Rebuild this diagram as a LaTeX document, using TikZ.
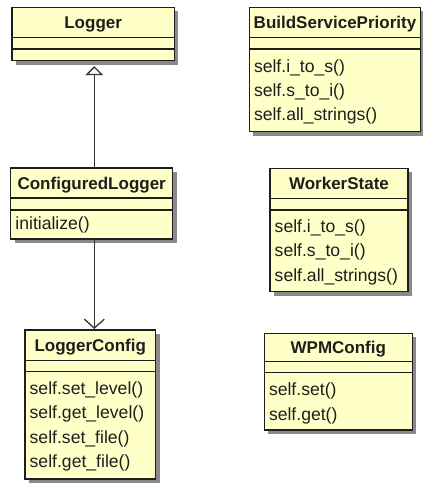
\documentclass[tikz,border=0pt]{standalone}
\usepackage{fontspec}
\setmainfont{Liberation Sans}
\usetikzlibrary{arrows.meta,fit}
\definecolor{classfill}{HTML}{FFFFC8}
\definecolor{shadowc}{HTML}{8A8A8A}
\definecolor{edgec}{HTML}{1E1E1E}
\definecolor{txtc}{HTML}{1E1E1E}
\tikzset{
  classbox/.style={draw=edgec, fill=classfill, line width=1.5pt, inner sep=0pt, outer sep=0pt},
  classline/.style={draw=edgec, line width=1.5pt},
  shadowbox/.style={fill=shadowc},
  titletext/.style={text=txtc, inner sep=0pt, anchor=base, font=\fontsize{17}{20}\selectfont\bfseries},
  rowtext/.style={text=txtc, inner sep=0pt, anchor=base west, font=\fontsize{17.6}{20}\selectfont},
  conn/.style={draw=edgec!90!white, line width=1.3pt},
  genarrow/.style={conn, -{Triangle[open, length=9pt, width=18pt, line width=1.3pt]}, shorten >=5.5pt},
  assocarrow/.style={conn, -{Straight Barb[length=9pt, width=20pt, line width=1.3pt]}, shorten >=1pt}
}
% #1 name, #2 left, #3 top, #4 right, #5 sep1, #6 sep2, #7 bottom, #8 title
\newcommand\umlclass[8]{%
  \fill[shadowbox] (#2+4,#3+4) rectangle (#4+4,#7+4);
  \node[classbox, fit={(#2,#3) (#4,#7)}] (#1) {};
  \draw[classline] (#2,#5) -- (#4,#5) (#2,#6) -- (#4,#6);
  \node[titletext] (#1-title) at ({(#2+#4)/2},{(#3+#5)/2+6}) {#8};
}
% #1 name, #2 left of class, #3 centre y, #4 text
\newcommand\umlrow[4]{%
  \node[rowtext] (#1) at (#2+4.5,#3+6) {#4};
}
\begin{document}
\begin{tikzpicture}[x=1pt,y=-1pt]
\useasboundingbox (0,0) rectangle (423,483);

% left column
\umlclass{logger}{12}{7.3}{174.3}{37.3}{49}{60.7}{Logger}
\umlclass{cfglogger}{10.7}{168}{172.7}{198}{210}{239}{ConfiguredLogger}
\umlrow{cl-r1}{10.7}{223}{initialize()}
\umlclass{loggerconfig}{25}{330}{155.5}{360.5}{371.7}{479}{LoggerConfig}
\umlrow{lc-r1}{25}{388}{self.set\_level()}
\umlrow{lc-r2}{25}{412.5}{self.get\_level()}
\umlrow{lc-r3}{25}{437}{self.set\_file()}
\umlrow{lc-r4}{25}{461.5}{self.get\_file()}

% right column
\umlclass{bsp}{249.3}{7.3}{420.7}{37.3}{49}{131.5}{BuildServicePriority}
\umlrow{bsp-r1}{249.3}{66}{self.i\_to\_s()}
\umlrow{bsp-r2}{249.3}{90}{self.s\_to\_i()}
\umlrow{bsp-r3}{249.3}{114.5}{self.all\_strings()}
\umlclass{workerstate}{270}{168.3}{408}{198.3}{210}{291.7}{WorkerState}
\umlrow{ws-r1}{270}{226.5}{self.i\_to\_s()}
\umlrow{ws-r2}{270}{250.7}{self.s\_to\_i()}
\umlrow{ws-r3}{270}{275}{self.all\_strings()}
\umlclass{wpmconfig}{264.3}{333.3}{412.3}{361.7}{372.7}{430}{WPMConfig}
\umlrow{wpm-r1}{264.3}{389.3}{self.set()}
\umlrow{wpm-r2}{264.3}{414.3}{self.get()}

% connectors
\coordinate (xline) at (94.3,0);
\draw[genarrow] (cfglogger.north -| xline) -- (logger.south -| xline);
\draw[assocarrow] (cfglogger.south -| xline) -- (loggerconfig.north -| xline);
\end{tikzpicture}
\end{document}
